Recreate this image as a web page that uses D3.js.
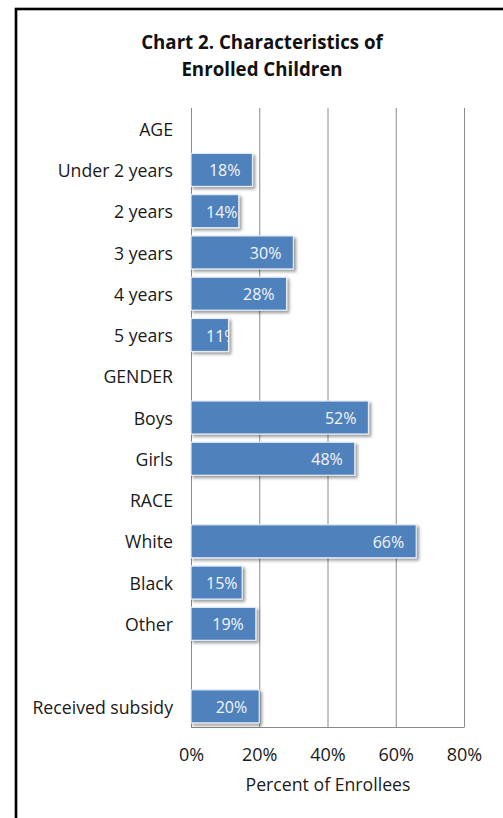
<!DOCTYPE html>
<html>
<head>
<meta charset="utf-8">
<script src="https://cdn.jsdelivr.net/npm/d3@7"></script>
<style>
  html, body { margin: 0; padding: 0; background: #fff; }
  svg { display: block; }
  text { font-family: "Open Sans", "Noto Sans", sans-serif; }
</style>
</head>
<body>
<svg id="chart" width="503" height="818"></svg>
<script>
// Chart 2 data: rows in display order; header rows have no value
const categories = ["AGE", "Under 2 years", "2 years", "3 years", "4 years", "5 years",
  "GENDER", "Boys", "Girls", "RACE", "White", "Black", "Other", "", "Received subsidy"];
const percents = [null, 18, 14, 30, 28, 11, null, 52, 48, null, 66, 15, 19, null, 20];
const tickValues = [0, 20, 40, 60, 80];
const titleLines = ["Chart 2. Characteristics of", "Enrolled Children"];
const axisTitle = "Percent of Enrollees";

const svg = d3.select("#chart");
const W = 503, H = 818;
const plot = { left: 191, right: 464, top: 108, bottom: 727 };

// frame of the chart area
svg.append("rect")
  .attr("x", 16).attr("y", 9)
  .attr("width", W + 10).attr("height", H + 10)
  .attr("fill", "none").attr("stroke", "#000").attr("stroke-width", 2.6);

// title
svg.append("g").selectAll("text").data(titleLines).join("text")
  .attr("x", 262).attr("y", (d, i) => 48.5 + i * 27.5)
  .attr("text-anchor", "middle")
  .attr("font-weight", "bold").attr("font-size", 18.7).attr("fill", "#111")
  .text(d => d);

const x = d3.scaleLinear().domain([0, 80]).range([plot.left, plot.right]);
const y = d3.scaleBand().domain(d3.range(categories.length))
  .range([plot.top, plot.bottom]).paddingInner(0.2).paddingOuter(0.1);

// shadow used on the bars
const defs = svg.append("defs");
const f = defs.append("filter").attr("id", "shadow")
  .attr("x", "-10%").attr("y", "-20%").attr("width", "130%").attr("height", "160%");
f.append("feDropShadow").attr("dx", 2.2).attr("dy", 2.2).attr("stdDeviation", 1.4)
  .attr("flood-color", "#000").attr("flood-opacity", 0.4);

// vertical gridlines
svg.append("g").selectAll("line").data(tickValues).join("line")
  .attr("x1", d => x(d) + 0.5).attr("x2", d => x(d) + 0.5)
  .attr("y1", plot.top).attr("y2", plot.bottom)
  .attr("stroke", "#8a8a8a").attr("stroke-width", 1);

// bottom axis
const xAxis = d3.axisBottom(x).tickValues(tickValues).tickSize(0).tickPadding(21)
  .tickFormat(d => d + "%");
const ax = svg.append("g").attr("transform", `translate(0,${plot.bottom + 0.5})`).call(xAxis);
ax.select(".domain").attr("stroke", "#8a8a8a").attr("d", `M${plot.left},0H${plot.right + 0.5}`);
ax.selectAll("text").attr("font-size", 18).attr("fill", "#1a1a1a")
  .attr("font-family", "'Open Sans', sans-serif");

svg.append("text")
  .attr("x", 328).attr("y", 791)
  .attr("text-anchor", "middle").attr("font-size", 17.7).attr("fill", "#1a1a1a")
  .text(axisTitle);

// category labels
svg.append("g").selectAll("text").data(categories).join("text")
  .attr("x", 173)
  .attr("y", (d, i) => y(i) + y.bandwidth() / 2 + 0.8)
  .attr("dy", "0.36em")
  .attr("text-anchor", "end").attr("font-size", 17.7).attr("fill", "#1a1a1a")
  .text(d => d);

// bars
const rows = percents.map((v, i) => ({ i, v })).filter(d => d.v !== null);

rows.forEach(d => {
  defs.append("clipPath").attr("id", "clip" + d.i)
    .append("rect")
    .attr("x", x(0)).attr("y", y(d.i))
    .attr("width", x(d.v) - x(0)).attr("height", y.bandwidth());
});

svg.append("g").selectAll("rect").data(rows).join("rect")
  .attr("x", x(0)).attr("y", d => y(d.i))
  .attr("width", d => x(d.v) - x(0)).attr("height", y.bandwidth())
  .attr("fill", "#4f81bd").attr("stroke", "#e4ecf6").attr("stroke-width", 1.2)
  .attr("filter", "url(#shadow)");

// value labels placed near the bar end, kept inside the bar
const labels = svg.append("g").selectAll("text").data(rows).join("text")
  .attr("y", d => y(d.i) + y.bandwidth() / 2 + 0.8)
  .attr("dy", "0.36em")
  .attr("font-size", 16).attr("fill", "#f4f7fb")
  .attr("clip-path", d => `url(#clip${d.i})`)
  .text(d => d.v + "%");

labels.each(function (d) {
  const w = this.getComputedTextLength();
  const end = x(d.v) - 12;
  const start = Math.max(x(0) + 15, end - w);
  d3.select(this).attr("x", start);
});
</script>
</body>
</html>
